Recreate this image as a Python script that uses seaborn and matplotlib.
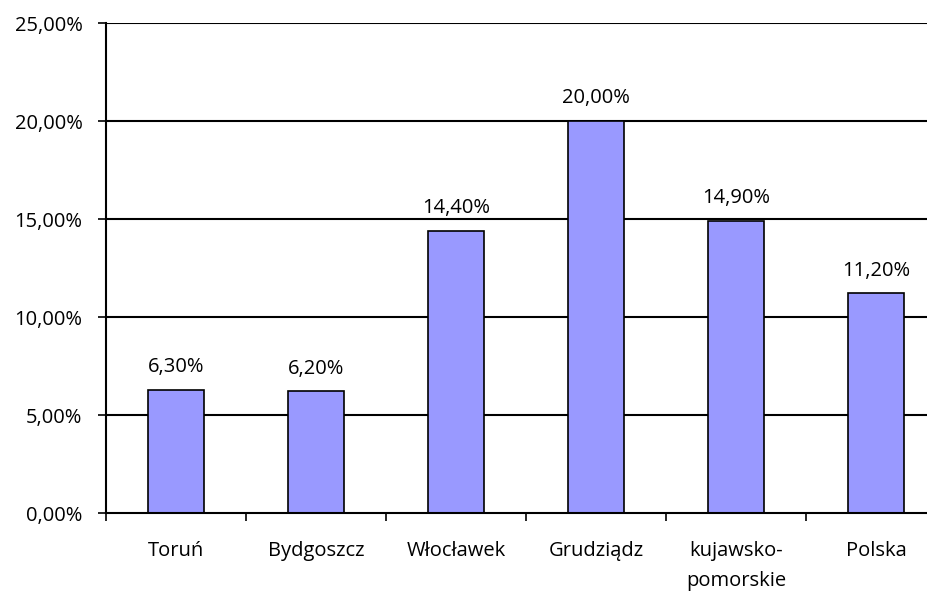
import matplotlib
matplotlib.use("Agg")
import matplotlib.pyplot as plt
import seaborn as sns
import pandas as pd

# values
regions = ["Toruń", "Bydgoszcz", "Włocławek", "Grudziądz", "kujawsko-\npomorskie", "Polska"]
shares = [6.3, 6.2, 14.4, 20.0, 14.9, 11.2]
y_ticks = [0, 5, 10, 15, 20, 25]

df = pd.DataFrame({"region": regions, "share": shares})

sns.set_style("white")
plt.rcParams["font.family"] = ["Open Sans", "DejaVu Sans"]
plt.rcParams["text.color"] = "black"
plt.rcParams["xtick.color"] = "black"
plt.rcParams["ytick.color"] = "black"

fig = plt.figure(figsize=(9.27, 5.95), dpi=100)
ax = fig.add_axes([106 / 927, 82 / 595, 840 / 927, 490 / 595])

sns.barplot(data=df, x="region", y="share", color="#9999ff", width=0.4,
            edgecolor="black", linewidth=1.2, saturation=1, ax=ax)

ax.set_ylim(0, 25)
ax.set_xlim(-0.5, len(regions) - 0.5)
ax.set_yticks(y_ticks)
ax.set_yticklabels([f"{v:.2f}".replace(".", ",") + "%" for v in y_ticks], fontsize=14.5)
for v in y_ticks[1:]:
    ax.axhline(v, color="black", linewidth=1.5, zorder=0)

# category ticks at the boundaries
ax.set_xticks(range(len(regions)))
ax.set_xticklabels(regions, fontsize=14.5, linespacing=1.65, va="top")
ax.tick_params(axis="x", length=0, pad=20)
ax.set_xticks([i - 0.5 for i in range(len(regions) + 1)], minor=True)
ax.tick_params(axis="x", which="minor", length=6, width=1.2, color="black", direction="out", bottom=True)
ax.tick_params(axis="y", length=6, width=1.2, color="black", direction="out", left=True, pad=11)

for i, v in enumerate(shares):
    ax.text(i, v + 0.65, f"{v:.2f}".replace(".", ",") + "%", ha="center", va="bottom", fontsize=14.5)

ax.set_xlabel("")
ax.set_ylabel("")
for side in ["top", "right"]:
    ax.spines[side].set_visible(False)
for side in ["left", "bottom"]:
    ax.spines[side].set_color("black")
    ax.spines[side].set_linewidth(1.5)

fig.savefig("out.png", dpi=100)
